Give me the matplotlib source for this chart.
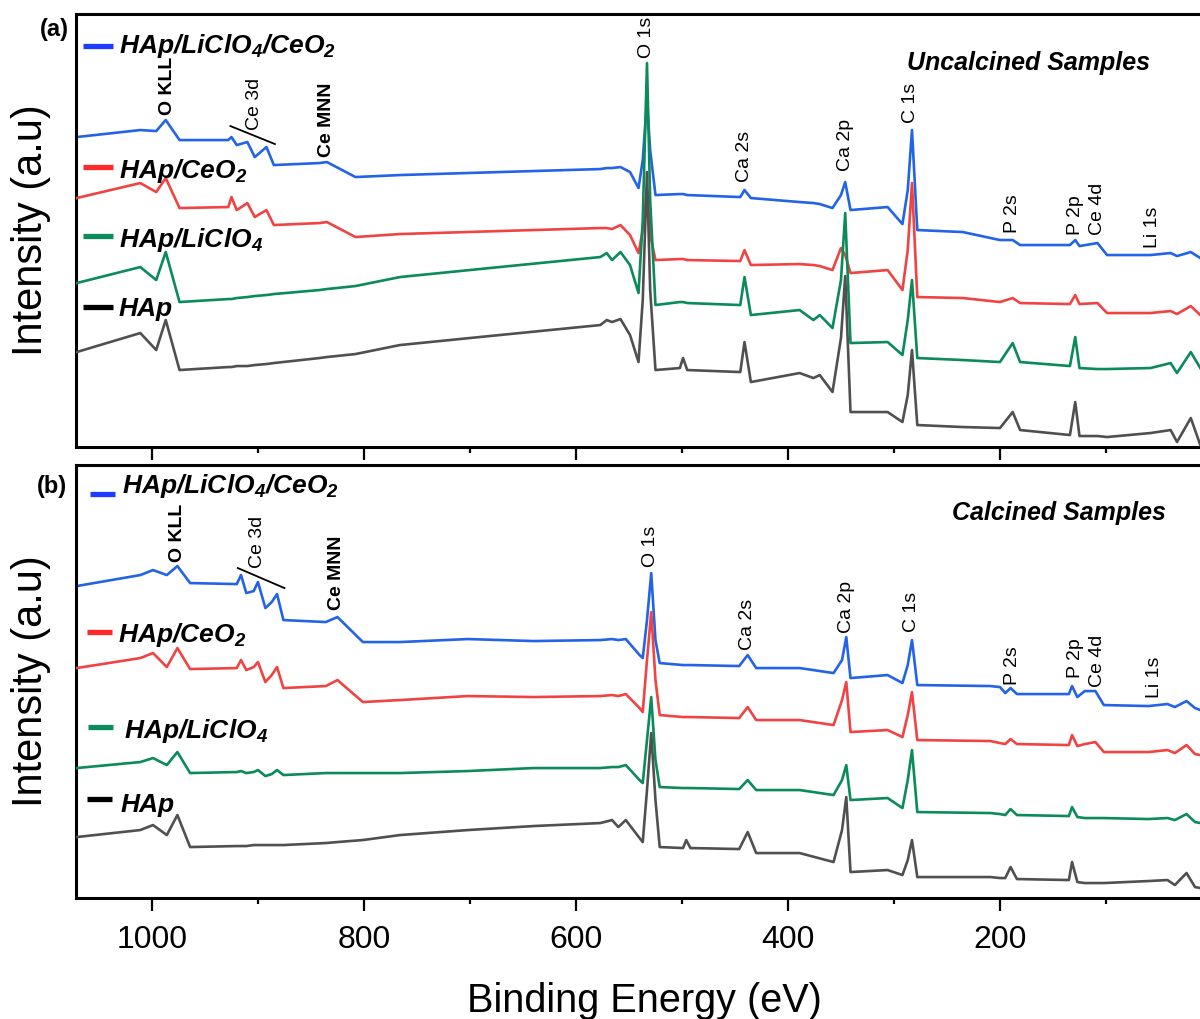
import matplotlib
matplotlib.use("Agg")
import matplotlib.pyplot as plt
from matplotlib.ticker import MultipleLocator, NullFormatter

# ---- panel (a): uncalcined samples, binding energy (eV) and intensity (a.u.)
energy_a = [1071, 1011, 996, 987, 974, 928, 925, 920, 910, 903,
            892, 885, 842, 835, 808, 766, 672, 577, 571, 566,
            558, 549, 541, 537, 533, 530, 525, 502, 499, 495,
            445, 441, 435, 389, 376, 370, 358, 350, 346, 341,
            306, 292, 287, 283, 278, 235, 200, 188, 181, 134,
            129, 125, 108, 99, 58, 39, 33, 20, 11]
hap_licl_ceo2_a = [309, 316, 315, 326, 306, 306, 309, 301, 304, 289,
                   299, 281, 283, 284, 269, 271, 274, 277, 278, 278,
                   279, 274, 258, 286, 346, 296, 251, 252, 252, 251,
                   249, 256, 248, 244, 243, 242, 238, 251, 264, 236,
                   239, 222, 256, 316, 216, 214, 206, 206, 201, 201,
                   206, 200, 203, 191, 191, 193, 190, 194, 188]
hap_ceo2_a = [248, 263, 254, 268, 238, 239, 249, 236, 243, 229,
              236, 221, 223, 224, 209, 212, 215, 218, 218, 217,
              221, 211, 193, 216, 256, 211, 186, 187, 187, 186,
              185, 196, 181, 182, 181, 180, 176, 198, 191, 173,
              176, 156, 196, 263, 149, 148, 144, 148, 143, 142,
              151, 142, 143, 133, 133, 135, 132, 140, 131]
hap_licl_a = [163, 179, 166, 194, 144, 147, 147, 148, 149, 150,
              151, 152, 156, 157, 160, 169, 179, 189, 193, 186,
              194, 181, 153, 226, 383, 246, 141, 144, 144, 143,
              141, 169, 131, 136, 126, 131, 118, 166, 233, 103,
              104, 91, 126, 166, 88, 86, 84, 103, 84, 80,
              109, 78, 77, 77, 78, 83, 73, 94, 78]
hap_a = [94, 113, 96, 126, 76, 79, 79, 80, 80, 81,
         82, 83, 88, 89, 92, 101, 111, 121, 126, 124,
         127, 111, 84, 146, 274, 156, 76, 78, 88, 76,
         74, 104, 64, 73, 68, 71, 54, 108, 170, 34,
         34, 24, 51, 96, 21, 19, 18, 34, 16, 11,
         44, 10, 10, 9, 13, 16, 4, 28, 1]

# ---- panel (b): calcined samples
energy_b = [1071, 1011, 999, 986, 976, 964, 920, 916, 911, 904,
            900, 893, 887, 882, 876, 836, 825, 801, 766, 702,
            640, 577, 566, 560, 553, 540, 537, 533, 529, 525,
            521, 499, 496, 492, 446, 438, 430, 389, 357, 349,
            345, 341, 306, 292, 287, 283, 278, 209, 200, 195,
            190, 184, 135, 132, 127, 120, 110, 102, 60, 42,
            35, 24, 16, 11]
hap_licl_ceo2_b = [312, 323, 328, 323, 332, 315, 314, 323, 305, 307,
                   316, 290, 296, 304, 278, 276, 281, 256, 256, 259,
                   257, 258, 259, 258, 259, 243, 240, 278, 325, 258,
                   235, 233, 233, 233, 232, 243, 230, 230, 225, 238,
                   261, 220, 223, 215, 233, 258, 213, 212, 211, 205,
                   210, 204, 204, 212, 201, 207, 207, 193, 192, 194,
                   191, 197, 190, 188]
hap_ceo2_b = [230, 240, 245, 231, 250, 229, 230, 238, 228, 231,
              236, 216, 223, 231, 210, 212, 218, 196, 198, 202,
              201, 202, 203, 202, 204, 190, 186, 238, 286, 218,
              183, 181, 181, 181, 180, 191, 178, 178, 173, 198,
              216, 166, 168, 161, 183, 206, 158, 157, 155, 154,
              159, 154, 153, 163, 152, 154, 156, 146, 146, 148,
              145, 153, 144, 143]
hap_licl_b = [130, 136, 140, 133, 146, 125, 126, 127, 125, 126,
              128, 122, 124, 128, 123, 125, 125, 125, 125, 127,
              130, 130, 131, 131, 133, 118, 115, 158, 201, 138,
              111, 110, 110, 110, 109, 118, 108, 108, 103, 118,
              133, 98, 100, 90, 118, 148, 86, 85, 84, 83,
              89, 83, 82, 91, 81, 80, 80, 80, 79, 80,
              78, 84, 76, 75]
hap_b = [61, 68, 73, 63, 83, 51, 52, 52, 52, 53,
         53, 53, 53, 53, 53, 55, 56, 58, 63, 68,
         72, 75, 78, 71, 78, 60, 56, 108, 165, 98,
         51, 50, 58, 50, 49, 66, 45, 45, 36, 68,
         101, 26, 28, 23, 38, 58, 21, 21, 20, 20,
         31, 19, 18, 36, 16, 15, 15, 15, 17, 18,
         13, 25, 11, 10]

sample_names = [r"HAp/LiClO$_4$/CeO$_2$", r"HAp/CeO$_2$", r"HAp/LiClO$_4$", "HAp"]
line_colors = ["#2363e6", "#f04343", "#0b8a5a", "#505050"]
handle_colors = ["#1e3cff", "#ff2a2a", "#0b8a5a", "#000000"]

peak_names = ["O KLL", "Ce 3d", "Ce MNN", "O 1s", "Ca 2s", "Ca 2p",
              "C 1s", "P 2s", "P 2p", "Ce 4d", "Li 1s"]
peak_bold = [True, False, True, False, False, False,
             False, False, False, False, False]
# label anchors (energy, intensity of the label's lower end)
peak_pos_a = [(985, 331), (903, 316), (835, 289), (533, 388), (441, 264), (346, 275),
              (284, 323), (188, 213), (129, 211), (108, 211), (56, 198)]
peak_pos_b = [(976, 336), (900, 330), (826, 288), (530, 331), (438, 248), (345, 265),
              (283, 266), (188, 213), (129, 220), (108, 211), (54, 200)]
slash_a = ([926, 884], [320, 302])
slash_b = ([919, 875], [330, 310])

# legend rows: handle x0, x1, handle y, text x, text baseline (axes fraction)
legend_a = [(0.006, 0.033, 0.926, 0.038, 0.910),
            (0.006, 0.033, 0.647, 0.038, 0.621),
            (0.006, 0.033, 0.487, 0.038, 0.462),
            (0.006, 0.033, 0.323, 0.038, 0.302)]
legend_b = [(0.0125, 0.035, 0.933, 0.041, 0.935),
            (0.0100, 0.032, 0.614, 0.037, 0.591),
            (0.0110, 0.033, 0.395, 0.043, 0.370),
            (0.0100, 0.032, 0.229, 0.040, 0.199)]


def configure_plot_style():
    plt.rcParams['font.family'] = ['Liberation Sans', 'DejaVu Sans']
    plt.rcParams['mathtext.fontset'] = 'custom'
    plt.rcParams['mathtext.default'] = 'regular'
    plt.rcParams['axes.linewidth'] = 2.2
    plt.rcParams['xtick.direction'] = 'out'
    plt.rcParams['xtick.major.size'] = 9.5
    plt.rcParams['xtick.minor.size'] = 4.5
    plt.rcParams['xtick.major.width'] = 1.6
    plt.rcParams['xtick.minor.width'] = 1.6
    plt.rcParams['xtick.labelsize'] = 23
    plt.rcParams['xtick.major.pad'] = 10


def draw_panel(ax, energy, series, ylim, peak_pos, slash, legend_rows, title, title_xy):
    # draw order: blue, red, grey, green
    for idx in [0, 1, 3, 2]:
        ax.plot(energy, series[idx], color=line_colors[idx], lw=1.9, zorder=2 + idx)

    ax.set_xlim(1071.7, 11.3)
    ax.set_ylim(*ylim)
    ax.xaxis.set_major_locator(MultipleLocator(200))
    ax.xaxis.set_minor_locator(MultipleLocator(100))
    ax.set_yticks([])
    ax.spines['right'].set_visible(False)

    for name, bold, (x, y) in zip(peak_names, peak_bold, peak_pos):
        ax.text(x, y, name, rotation=90, ha='center', va='bottom', fontsize=14,
                fontweight='bold' if bold else 'normal', zorder=10)
    ax.plot(slash[0], slash[1], color='black', lw=1.3, zorder=10)

    for (x0, x1, hy, tx, ty), name, col in zip(legend_rows, sample_names, handle_colors):
        ax.plot([x0, x1], [hy, hy], color=col, lw=3.8, transform=ax.transAxes,
                solid_capstyle='butt', clip_on=False)
        ax.text(tx, ty, name, transform=ax.transAxes, fontsize=19,
                fontweight='bold', fontstyle='italic', va='baseline', ha='left')

    ax.text(title_xy[0], title_xy[1], title, transform=ax.transAxes, fontsize=18,
            fontweight='bold', fontstyle='italic', ha='center', va='baseline')


configure_plot_style()
fig = plt.figure(figsize=(12, 10.19), dpi=100)
ax_a = fig.add_axes([0.0633, 0.5613, 0.9367, 0.4249])
ax_b = fig.add_axes([0.0633, 0.1187, 0.9367, 0.4249])

draw_panel(ax_a, energy_a, [hap_licl_ceo2_a, hap_ceo2_a, hap_licl_a, hap_a], (-1, 432),
           peak_pos_a, slash_a, legend_a, "Uncalcined Samples", (0.847, 0.871))
draw_panel(ax_b, energy_b, [hap_licl_ceo2_b, hap_ceo2_b, hap_licl_b, hap_b], (0, 433),
           peak_pos_b, slash_b, legend_b, "Calcined Samples", (0.8746, 0.873))

ax_a.xaxis.set_major_formatter(NullFormatter())

fig.text(0.045, 0.9706, "(a)", fontsize=17, fontweight='bold', ha='center', va='center')
fig.text(0.0433, 0.523, "(b)", fontsize=17, fontweight='bold', ha='center', va='center')
fig.text(0.026, 0.774, "Intensity (a.u)", fontsize=30, rotation=90, ha='center', va='center')
fig.text(0.026, 0.332, "Intensity (a.u)", fontsize=30, rotation=90, ha='center', va='center')
fig.text(0.537, 0.0069, "Binding Energy (eV)", fontsize=28.5, ha='center', va='baseline')

fig.savefig("out.png", dpi=100)
